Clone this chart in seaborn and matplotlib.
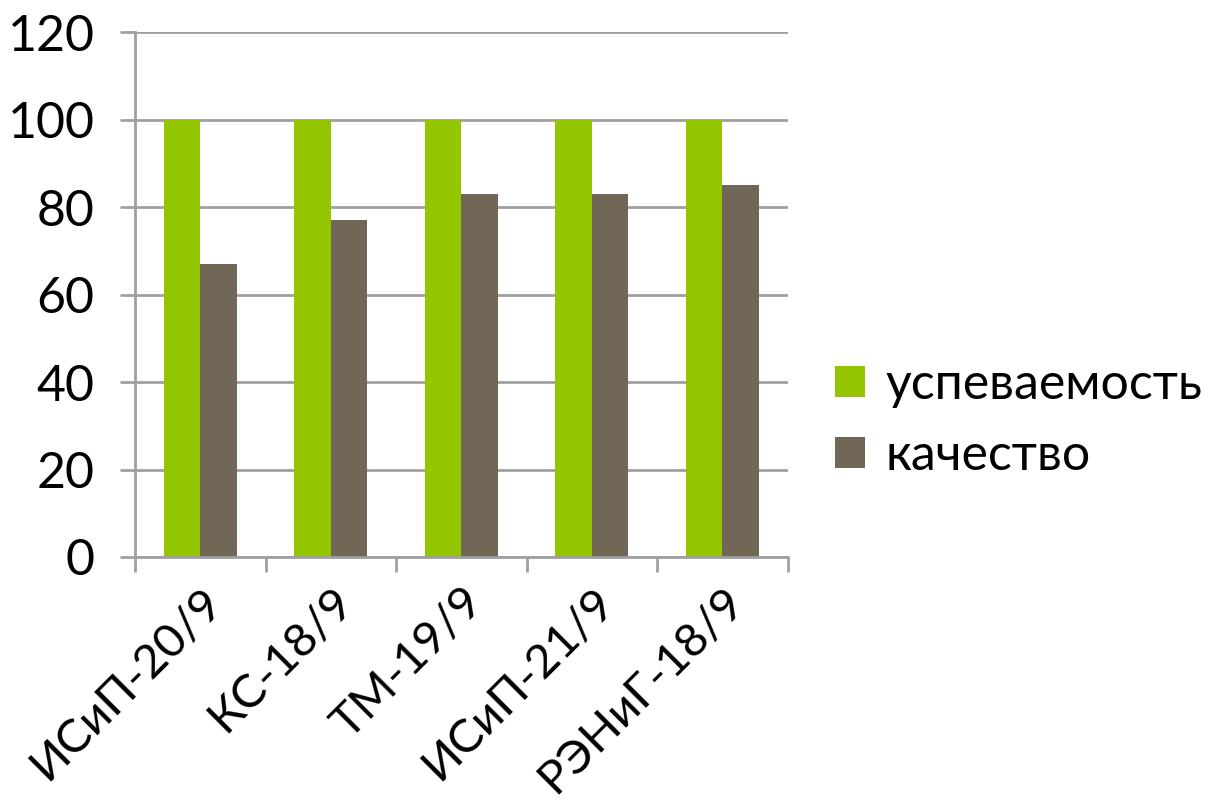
import matplotlib
matplotlib.use("Agg")
import matplotlib.pyplot as plt
import seaborn as sns
import pandas as pd
import numpy as np
from matplotlib.ticker import FixedLocator
from matplotlib.patches import Patch

categories = ["ИСиП-20/9", "КС-18/9", "ТМ-19/9", "ИСиП-21/9", "РЭНиГ-18/9"]
uspevaemost = [100, 100, 100, 100, 100]
kachestvo = [67, 77, 83, 83, 85]
series_names = ["успеваемость", "качество"]
colors = ["#94C600", "#716757"]

df = pd.DataFrame({
    "group": categories * 2,
    "value": uspevaemost + kachestvo,
    "series": [series_names[0]] * len(categories) + [series_names[1]] * len(categories),
})

sns.set_style("white")
plt.rcParams["font.family"] = ["Lato", "DejaVu Sans"]
plt.rcParams["text.color"] = "black"
plt.rcParams["xtick.color"] = "black"
plt.rcParams["ytick.color"] = "black"

fig = plt.figure(figsize=(12.27, 8.09), dpi=100)
ax = fig.add_axes([0.110, 0.3115, 0.532, 0.6489])

sns.barplot(data=df, x="group", y="value", hue="series", palette=colors,
            width=0.56, ax=ax, legend=False, saturation=1, edgecolor="none")

ax.set_ylim(0, 120)
ax.set_xlim(-0.5, len(categories) - 0.5)
ax.set_yticks(np.arange(0, 121, 20))
ax.yaxis.grid(True, color="#A0A0A0", linewidth=2)
ax.set_axisbelow(True)
for s in ["top", "right"]:
    ax.spines[s].set_visible(False)
for s in ["left", "bottom"]:
    ax.spines[s].set_color("#A0A0A0")
    ax.spines[s].set_linewidth(2)

ax.set_xlabel("")
ax.set_ylabel("")
ax.tick_params(axis="y", labelsize=36, length=11, width=2, color="#A0A0A0",
               labelcolor="black", pad=18, left=True)
ax.tick_params(axis="x", which="major", length=0, labelsize=34, pad=16, labelcolor="black")
ax.xaxis.set_minor_locator(FixedLocator(np.arange(-0.5, len(categories), 1.0)))
ax.tick_params(axis="x", which="minor", length=11, width=2, color="#A0A0A0", bottom=True)
for lbl in ax.get_xticklabels():
    lbl.set_rotation(45)
    lbl.set_ha("right")
    lbl.set_rotation_mode("anchor")

handles = [Patch(facecolor=c, edgecolor="none") for c in colors]
leg = fig.legend(handles, series_names, loc="center left", bbox_to_anchor=(0.644, 0.48),
                 frameon=False, fontsize=36, handlelength=0.6, handleheight=0.6,
                 handletextpad=0.4, labelspacing=0.5)

fig.savefig("out.png", dpi=100)
